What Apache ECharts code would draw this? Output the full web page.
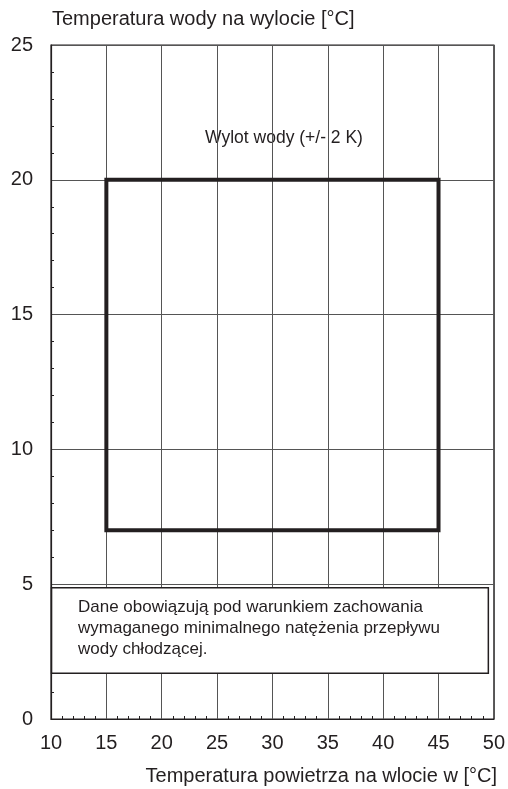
<!DOCTYPE html>
<html><head><meta charset="utf-8">
<script src="https://cdn.jsdelivr.net/npm/echarts@6/dist/echarts.min.js"></script>
<style>html,body{margin:0;padding:0;background:#fff}#c{width:508px;height:789px}</style>
</head><body><div id="c"></div>
<script>
const xTicks = [10, 15, 20, 25, 30, 35, 40, 45, 50];
const yTicks = [0, 5, 10, 15, 20, 25];
const envelopeX = [15, 15, 45, 45, 15];
const envelopeY = [7, 20, 20, 7, 7];
const yTitle = 'Temperatura wody na wylocie [°C]';
const xTitle = 'Temperatura powietrza na wlocie w [°C]';
const zoneLabel = 'Wylot wody (+/- 2 K)';
const noteLines = ['Dane obowiązują pod warunkiem zachowania', 'wymaganego minimalnego natężenia przepływu', 'wody chłodzącej.'];
const noteBoxX = [10.05, 49.5];
const noteBoxY = [1.7, 4.87];

const FONT = 'Liberation Sans, Arial, sans-serif';
const INK = '#231f20';
const chart = echarts.init(document.getElementById('c'), null, {renderer: 'canvas'});
chart.setOption({
  animation: false,
  backgroundColor: '#fff',
  grid: {left: 51, right: 14, top: 45, bottom: 70, show: true, borderColor: INK, borderWidth: 1.2},
  xAxis: {
    type: 'value', min: xTicks[0], max: xTicks[xTicks.length - 1], interval: 5,
    axisLine: {show: true, lineStyle: {color: INK, width: 1.2}},
    axisTick: {show: false, inside: true},
    minorTick: {show: true, splitNumber: 5, length: 3, lineStyle: {color: INK, width: 1}},
    axisLabel: {color: INK, fontSize: 20, fontFamily: FONT, margin: 14},
    splitLine: {show: true, lineStyle: {color: '#555', width: 1}}
  },
  yAxis: {
    type: 'value', min: yTicks[0], max: yTicks[yTicks.length - 1], interval: 5,
    axisLine: {show: true, lineStyle: {color: INK, width: 1.2}},
    axisTick: {show: false, inside: true},
    minorTick: {show: true, splitNumber: 5, length: 3, lineStyle: {color: INK, width: 1}},
    axisLabel: {color: INK, fontSize: 20, fontFamily: FONT, margin: 18},
    splitLine: {show: true, lineStyle: {color: '#555', width: 1}}
  },
  series: [{
    type: 'line',
    data: envelopeX.map((x, i) => [x, envelopeY[i]]),
    showSymbol: false, symbol: 'none',
    lineStyle: {color: INK, width: 4, join: 'miter', cap: 'square'},
    z: 5,
    markArea: {
      silent: true,
      itemStyle: {color: '#fff', borderColor: INK, borderWidth: 1.5, opacity: 1},
      data: [[{coord: [noteBoxX[0], noteBoxY[1]]}, {coord: [noteBoxX[1], noteBoxY[0]]}]],
      label: {show: false}
    }
  }],
  graphic: [
    {type: 'text', left: 52, top: 9, style: {text: yTitle, fill: INK, font: '20px ' + FONT}},
    {type: 'text', right: 11, top: 766, style: {text: xTitle, fill: INK, font: '20px ' + FONT}},
    {type: 'text', x: 284, y: 138, style: {text: zoneLabel, fill: INK, font: '17.5px ' + FONT, align: 'center', verticalAlign: 'middle'}},
    {type: 'text', x: 78, y: 597, z: 10, style: {text: noteLines.join('\n'), fill: INK, font: '17px ' + FONT, lineHeight: 21}}
  ]
});
</script></body></html>
